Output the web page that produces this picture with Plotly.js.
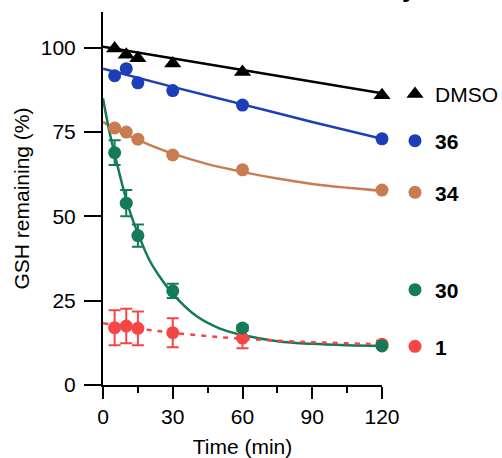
<!DOCTYPE html>
<html>
<head>
<meta charset="utf-8">
<script src="https://cdn.plot.ly/plotly-3.0.1.min.js"></script>
<style>html,body{margin:0;padding:0;background:#fff}#chart{width:502px;height:458px}</style>
</head>
<body>
<div id="chart"></div>
<script>
// ---- data ----
const times = [5, 10, 15, 30, 60, 120];
const dmso = [99.8, 97.9, 96.9, 95.3, 92.8, 85.9];
const c36 = [91.7, 93.8, 89.6, 87.3, 83.0, 73.0];
const c34 = [76.2, 75.0, 72.9, 68.2, 63.8, 57.8];
const c30 = [68.9, 53.9, 44.3, 27.9, 16.9, 11.6];
const c30err = [3.7, 3.9, 3.3, 2.1, 0.8, 0.6];
const c1 = [17.0, 17.5, 16.8, 15.5, 13.9, 12.1];
const c1err = [5.2, 5.1, 5.0, 4.3, 3.0, 1.0];

// fitted curves
const fitDmsoT = [0, 60, 120];
const fitDmso = [100.3, 93.4, 86.5];
const fit36T = [0, 30, 60, 90, 120];
const fit36 = [93.8, 88.4, 83.2, 78.0, 73.0];
const fit34T = [0, 5, 10, 15, 20, 30, 45, 60, 75, 90, 105, 120];
const fit34 = [78.0, 76.0, 74.3, 72.7, 71.2, 68.6, 65.5, 63.2, 61.2, 59.6, 58.5, 57.6];
const fit30T = [0, 2.5, 5, 7.5, 10, 12.5, 15, 20, 25, 30, 40, 50, 60, 75, 90, 105, 120];
const fit30 = [85, 76, 68.5, 61.5, 55, 49.5, 45, 37, 31.5, 27, 20.5, 16.8, 14.8, 13.0, 12.2, 11.8, 11.6];
const fit1T = [0, 10, 20, 30, 45, 60, 90, 120];
const fit1 = [18.3, 17.3, 16.3, 15.5, 14.5, 13.7, 12.7, 12.1];

const names = ['DMSO', '36', '34', '30', '1'];
const xTicks = [0, 30, 60, 90, 120];
const yTicks = [0, 25, 50, 75, 100];

// ---- styles ----
const colBlack = '#000000', colBlue = '#1c3fb8', colOrange = '#c97c4f', colGreen = '#147a57', colRed = '#f64545';
const FONT = 'Liberation Sans, Arial, Helvetica, sans-serif';

function fitLine(x, y, color, dash) {
  return {x: x, y: y, type: 'scatter', mode: 'lines', line: {color: color, width: 2.5, shape: 'spline', dash: dash || 'solid'},
    showlegend: false, hoverinfo: 'skip', cliponaxis: false};
}
function pts(y, err, color, symbol, size, name, legend) {
  const t = {x: times, y: y, type: 'scatter', mode: 'markers', name: name, legend: legend,
    marker: {color: color, size: size, symbol: symbol}, cliponaxis: false};
  if (err) t.error_y = {type: 'data', array: err, visible: true, color: color, thickness: 2, width: 6};
  return t;
}

const traces = [
  fitLine(fitDmsoT, fitDmso, colBlack),
  fitLine(fit36T, fit36, colBlue),
  fitLine(fit34T, fit34, colOrange),
  fitLine(fit30T, fit30, colGreen),
  fitLine(fit1T, fit1, colRed, '5px,6px'),
  pts(c1, c1err, colRed, 'circle', 13, '<b>' + names[4] + '</b>', 'legend5'),
  pts(c30, c30err, colGreen, 'circle', 13, '<b>' + names[3] + '</b>', 'legend4'),
  pts(c34, null, colOrange, 'circle', 13, '<b>' + names[2] + '</b>', 'legend3'),
  pts(c36, null, colBlue, 'circle', 13, '<b>' + names[1] + '</b>', 'legend2'),
  pts(dmso, null, colBlack, 'triangle-up', 15, names[0], 'legend')
];

function leg(y) {
  return {x: 1.0466, y: y, xanchor: 'left', yanchor: 'middle', bgcolor: 'rgba(0,0,0,0)', borderwidth: 0,
    font: {family: FONT, size: 21, color: '#000'}, itemwidth: 30};
}

const layout = {
  width: 502, height: 458,
  margin: {l: 103, r: 120, t: 12, b: 73, autoexpand: false},
  paper_bgcolor: '#fff', plot_bgcolor: '#fff',
  font: {family: FONT, size: 21, color: '#000'},
  xaxis: {range: [0, 120], tickvals: xTicks, ticks: 'outside', ticklen: 12, tickwidth: 2, tickcolor: '#000',
    showline: true, linewidth: 2, linecolor: '#000', showgrid: false, zeroline: false,
    minor: {dtick: 15, tick0: 0, ticks: 'outside', ticklen: 6, tickwidth: 2, tickcolor: '#000'},
    tickfont: {size: 21}, title: {text: 'Time (min)', font: {size: 21}, standoff: 13}},
  yaxis: {range: [0, 110.6], tickvals: yTicks, ticks: 'outside', ticklen: 17, tickwidth: 2, tickcolor: '#000',
    showline: true, linewidth: 2, linecolor: '#000', showgrid: false, zeroline: false,
    tickfont: {size: 21}, ticklabelstandoff: 4,
    title: {text: 'GSH remaining (%)', font: {size: 21}, standoff: 5}},
  showlegend: true,
  legend: leg(0.7794),
  legend2: leg(0.6542),
  legend3: leg(0.5155),
  legend4: leg(0.2547),
  legend5: leg(0.1027),
  annotations: [{text: '<b>y</b>', xref: 'paper', yref: 'paper', x: 1.1, y: 1.02, xanchor: 'center', yanchor: 'bottom',
    showarrow: false, font: {family: FONT, size: 26, color: '#000'}}]
};

Plotly.newPlot('chart', traces, layout, {staticPlot: true, displayModeBar: false});
</script>
</body>
</html>
